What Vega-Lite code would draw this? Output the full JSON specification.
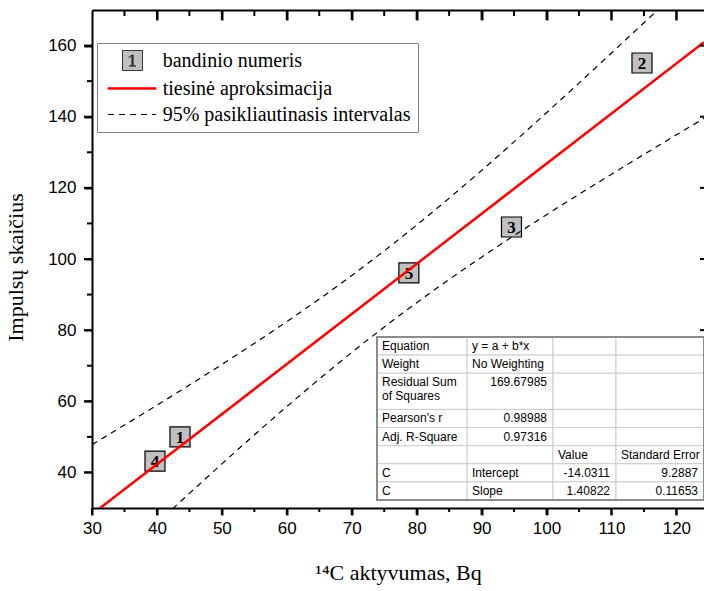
{
  "$schema": "https://vega.github.io/schema/vega-lite/v6.json",
  "width": 612,
  "height": 498,
  "autosize": {"type": "none"},
  "padding": {"left": 92, "top": 10, "right": 0, "bottom": 83},
  "background": "white",
  "config": {
    "view": {"stroke": null},
    "axis": {
      "grid": false,
      "ticks": true,
      "domainColor": "black",
      "tickColor": "black",
      "labelColor": "black",
      "titleColor": "black",
      "labelFont": "Liberation Sans",
      "labelFontSize": 17,
      "titleFont": "Liberation Serif",
      "titleFontSize": 22,
      "titleFontWeight": "normal",
      "domainWidth": 2,
      "tickWidth": 2,
      "labelOverlap": false,
      "labelFlush": false
    },
    "legend": {
      "orient": "none", "legendX": 5, "legendY": 33, "title": null, "direction": "vertical",
      "strokeColor": "#7f7f7f", "fillColor": "white", "padding": 7,
      "symbolSize": 400, "symbolStrokeWidth": 1, "symbolOpacity": 1,
      "labelFont": "Liberation Serif", "labelFontSize": 20, "labelColor": "black",
      "labelOffset": 37.7, "rowPadding": 5, "labelLimit": 400
    }
  },
  "datasets": {
    "points": [
      {"x": 43.55, "y": 50.0, "label": "1"},
      {"x": 114.7, "y": 155.1, "label": "2"},
      {"x": 94.6, "y": 109.0, "label": "3"},
      {"x": 39.7, "y": 43.2, "label": "4"},
      {"x": 78.8, "y": 96.1, "label": "5"}
    ],
    "ticks": [
      {"axis": "x", "v": 30, "kind": "major"}, {"axis": "x", "v": 35, "kind": "minor"},
      {"axis": "x", "v": 40, "kind": "major"}, {"axis": "x", "v": 45, "kind": "minor"},
      {"axis": "x", "v": 50, "kind": "major"}, {"axis": "x", "v": 55, "kind": "minor"},
      {"axis": "x", "v": 60, "kind": "major"}, {"axis": "x", "v": 65, "kind": "minor"},
      {"axis": "x", "v": 70, "kind": "major"}, {"axis": "x", "v": 75, "kind": "minor"},
      {"axis": "x", "v": 80, "kind": "major"}, {"axis": "x", "v": 85, "kind": "minor"},
      {"axis": "x", "v": 90, "kind": "major"}, {"axis": "x", "v": 95, "kind": "minor"},
      {"axis": "x", "v": 100, "kind": "major"}, {"axis": "x", "v": 105, "kind": "minor"},
      {"axis": "x", "v": 110, "kind": "major"}, {"axis": "x", "v": 115, "kind": "minor"},
      {"axis": "x", "v": 120, "kind": "major"},
      {"axis": "y", "v": 40, "kind": "major"}, {"axis": "y", "v": 50, "kind": "minor"},
      {"axis": "y", "v": 60, "kind": "major"}, {"axis": "y", "v": 70, "kind": "minor"},
      {"axis": "y", "v": 80, "kind": "major"}, {"axis": "y", "v": 90, "kind": "minor"},
      {"axis": "y", "v": 100, "kind": "major"}, {"axis": "y", "v": 110, "kind": "minor"},
      {"axis": "y", "v": 120, "kind": "major"}, {"axis": "y", "v": 130, "kind": "minor"},
      {"axis": "y", "v": 140, "kind": "major"}, {"axis": "y", "v": 150, "kind": "minor"},
      {"axis": "y", "v": 160, "kind": "major"}
    ],
    "lines": [
      {"x": 30, "y": 28.22, "series": "tiesinė aproksimacija", "band": "fit"},
      {"x": 124.25, "y": 160.94, "series": "tiesinė aproksimacija", "band": "fit"},
      {"x": 30, "y": 47.81, "series": "95% pasikliautinasis intervalas", "band": "upper"},
      {"x": 35, "y": 53.33, "series": "95% pasikliautinasis intervalas", "band": "upper"},
      {"x": 40, "y": 58.91, "series": "95% pasikliautinasis intervalas", "band": "upper"},
      {"x": 45, "y": 64.58, "series": "95% pasikliautinasis intervalas", "band": "upper"},
      {"x": 50, "y": 70.36, "series": "95% pasikliautinasis intervalas", "band": "upper"},
      {"x": 60, "y": 82.40, "series": "95% pasikliautinasis intervalas", "band": "upper"},
      {"x": 70, "y": 95.36, "series": "95% pasikliautinasis intervalas", "band": "upper"},
      {"x": 80, "y": 109.54, "series": "95% pasikliautinasis intervalas", "band": "upper"},
      {"x": 90, "y": 124.90, "series": "95% pasikliautinasis intervalas", "band": "upper"},
      {"x": 100, "y": 141.13, "series": "95% pasikliautinasis intervalas", "band": "upper"},
      {"x": 110, "y": 157.91, "series": "95% pasikliautinasis intervalas", "band": "upper"},
      {"x": 115, "y": 166.42, "series": "95% pasikliautinasis intervalas", "band": "upper"},
      {"x": 120, "y": 175.02, "series": "95% pasikliautinasis intervalas", "band": "upper"},
      {"x": 125, "y": 183.65, "series": "95% pasikliautinasis intervalas", "band": "upper"},
      {"x": 30, "y": 8.62, "series": "95% pasikliautinasis intervalas", "band": "lower"},
      {"x": 35, "y": 17.19, "series": "95% pasikliautinasis intervalas", "band": "lower"},
      {"x": 40, "y": 25.69, "series": "95% pasikliautinasis intervalas", "band": "lower"},
      {"x": 45, "y": 34.10, "series": "95% pasikliautinasis intervalas", "band": "lower"},
      {"x": 50, "y": 42.40, "series": "95% pasikliautinasis intervalas", "band": "lower"},
      {"x": 60, "y": 58.52, "series": "95% pasikliautinasis intervalas", "band": "lower"},
      {"x": 70, "y": 73.72, "series": "95% pasikliautinasis intervalas", "band": "lower"},
      {"x": 80, "y": 87.72, "series": "95% pasikliautinasis intervalas", "band": "lower"},
      {"x": 90, "y": 100.52, "series": "95% pasikliautinasis intervalas", "band": "lower"},
      {"x": 100, "y": 112.45, "series": "95% pasikliautinasis intervalas", "band": "lower"},
      {"x": 110, "y": 123.83, "series": "95% pasikliautinasis intervalas", "band": "lower"},
      {"x": 115, "y": 129.40, "series": "95% pasikliautinasis intervalas", "band": "lower"},
      {"x": 120, "y": 134.90, "series": "95% pasikliautinasis intervalas", "band": "lower"},
      {"x": 125, "y": 140.35, "series": "95% pasikliautinasis intervalas", "band": "lower"}
    ],
    "table": [
      {"r0": 0, "r1": 1, "c0": 0, "c1": 1, "text": "Equation", "kind": "label"},
      {"r0": 0, "r1": 1, "c0": 1, "c1": 2, "text": "y = a + b*x", "kind": "label"},
      {"r0": 0, "r1": 1, "c0": 2, "c1": 3, "text": "", "kind": "empty"},
      {"r0": 0, "r1": 1, "c0": 3, "c1": 4, "text": "", "kind": "empty"},
      {"r0": 1, "r1": 2, "c0": 0, "c1": 1, "text": "Weight", "kind": "label"},
      {"r0": 1, "r1": 2, "c0": 1, "c1": 2, "text": "No Weighting", "kind": "label"},
      {"r0": 1, "r1": 2, "c0": 2, "c1": 3, "text": "", "kind": "empty"},
      {"r0": 1, "r1": 2, "c0": 3, "c1": 4, "text": "", "kind": "empty"},
      {"r0": 2, "r1": 4, "c0": 0, "c1": 1, "text": "Residual Sum\nof Squares", "kind": "label"},
      {"r0": 2, "r1": 4, "c0": 1, "c1": 2, "text": "169.67985", "kind": "number"},
      {"r0": 2, "r1": 4, "c0": 2, "c1": 3, "text": "", "kind": "empty"},
      {"r0": 2, "r1": 4, "c0": 3, "c1": 4, "text": "", "kind": "empty"},
      {"r0": 4, "r1": 5, "c0": 0, "c1": 1, "text": "Pearson's r", "kind": "label"},
      {"r0": 4, "r1": 5, "c0": 1, "c1": 2, "text": "0.98988", "kind": "number"},
      {"r0": 4, "r1": 5, "c0": 2, "c1": 3, "text": "", "kind": "empty"},
      {"r0": 4, "r1": 5, "c0": 3, "c1": 4, "text": "", "kind": "empty"},
      {"r0": 5, "r1": 6, "c0": 0, "c1": 1, "text": "Adj. R-Square", "kind": "label"},
      {"r0": 5, "r1": 6, "c0": 1, "c1": 2, "text": "0.97316", "kind": "number"},
      {"r0": 5, "r1": 6, "c0": 2, "c1": 3, "text": "", "kind": "empty"},
      {"r0": 5, "r1": 6, "c0": 3, "c1": 4, "text": "", "kind": "empty"},
      {"r0": 6, "r1": 7, "c0": 0, "c1": 1, "text": "", "kind": "empty"},
      {"r0": 6, "r1": 7, "c0": 1, "c1": 2, "text": "", "kind": "empty"},
      {"r0": 6, "r1": 7, "c0": 2, "c1": 3, "text": "Value", "kind": "label"},
      {"r0": 6, "r1": 7, "c0": 3, "c1": 4, "text": "Standard Error", "kind": "label"},
      {"r0": 7, "r1": 8, "c0": 0, "c1": 1, "text": "C", "kind": "label"},
      {"r0": 7, "r1": 8, "c0": 1, "c1": 2, "text": "Intercept", "kind": "label"},
      {"r0": 7, "r1": 8, "c0": 2, "c1": 3, "text": "-14.0311", "kind": "number"},
      {"r0": 7, "r1": 8, "c0": 3, "c1": 4, "text": "9.2887", "kind": "number"},
      {"r0": 8, "r1": 9, "c0": 0, "c1": 1, "text": "C", "kind": "label"},
      {"r0": 8, "r1": 9, "c0": 1, "c1": 2, "text": "Slope", "kind": "label"},
      {"r0": 8, "r1": 9, "c0": 2, "c1": 3, "text": "1.40822", "kind": "number"},
      {"r0": 8, "r1": 9, "c0": 3, "c1": 4, "text": "0.11653", "kind": "number"}
    ]
  },
  "layer": [
    {
      "layer": [
        {
          "data": {"name": "points"},
          "mark": {"type": "square", "size": 400, "filled": true, "fill": "#c0c0c0", "stroke": "black", "strokeWidth": 1.2, "opacity": 1},
          "encoding": {
            "x": {
              "field": "x", "type": "quantitative",
              "scale": {"domain": [30, 124.25], "nice": false, "zero": false},
              "axis": {
                "orient": "bottom",
                "values": [30, 40, 50, 60, 70, 80, 90, 100, 110, 120],
                "tickSize": 7,
                "labelPadding": 5,
                "title": "¹⁴C aktyvumas, Bq",
                "titlePadding": 26
              }
            },
            "y": {
              "field": "y", "type": "quantitative",
              "scale": {"domain": [30, 170], "nice": false, "zero": false},
              "axis": {
                "orient": "left",
                "values": [40, 60, 80, 100, 120, 140, 160],
                "tickSize": 8,
                "labelPadding": 8,
                "title": "Impulsų skaičius",
                "titlePadding": 20,
                "titleY": 257
              }
            }
          }
        },
        {
          "data": {"name": "points"},
          "mark": {"type": "text", "font": "Liberation Serif", "fontWeight": "bold", "fontSize": 17, "align": "center", "baseline": "middle", "dy": 1, "color": "black"},
          "encoding": {
            "x": {"field": "x", "type": "quantitative", "scale": {"domain": [30, 124.25], "nice": false, "zero": false}, "axis": null},
            "y": {"field": "y", "type": "quantitative", "scale": {"domain": [30, 170], "nice": false, "zero": false}, "axis": null},
            "text": {"field": "label"}
          }
        },
        {
          "data": {"name": "lines"},
          "transform": [{"filter": "datum.series === '95% pasikliautinasis intervalas'"}],
          "mark": {"type": "line", "clip": true, "strokeWidth": 1.2, "strokeDash": [6, 5], "color": "black", "interpolate": "monotone"},
          "encoding": {
            "x": {
              "field": "x", "type": "quantitative",
              "scale": {"domain": [30, 124.25], "nice": false, "zero": false},
              "axis": {"orient": "top", "values": [40, 50, 60, 70, 80, 90, 100, 110, 120], "tickSize": -10, "labels": false, "title": null}
            },
            "y": {"field": "y", "type": "quantitative", "scale": {"domain": [30, 170], "nice": false, "zero": false}, "axis": null},
            "detail": {"field": "band"}
          }
        },
        {
          "data": {"name": "lines"},
          "transform": [{"filter": "datum.series === 'tiesinė aproksimacija'"}],
          "mark": {"type": "line", "clip": true, "strokeWidth": 2.5, "color": "#ff0000"},
          "encoding": {
            "x": {"field": "x", "type": "quantitative", "scale": {"domain": [30, 124.25], "nice": false, "zero": false}, "axis": null},
            "y": {"field": "y", "type": "quantitative", "scale": {"domain": [30, 170], "nice": false, "zero": false}, "axis": null}
          }
        },
        {
          "data": {"name": "ticks"},
          "transform": [{"filter": "datum.axis === 'x' && datum.kind === 'major'"}],
          "mark": {"type": "rule", "color": "black", "strokeWidth": 2, "y2Offset": 7},
          "encoding": {
            "x": {"field": "v", "type": "quantitative", "scale": {"domain": [30, 124.25], "nice": false, "zero": false}, "axis": null},
            "y": {"datum": 30, "type": "quantitative", "scale": {"domain": [30, 170], "nice": false, "zero": false}, "axis": null},
            "y2": {"datum": 30}
          }
        },
        {
          "data": {"name": "ticks"},
          "transform": [{"filter": "datum.axis === 'x' && datum.kind === 'minor'"}],
          "mark": {"type": "rule", "color": "black", "strokeWidth": 2, "y2Offset": 4},
          "encoding": {
            "x": {"field": "v", "type": "quantitative", "scale": {"domain": [30, 124.25], "nice": false, "zero": false}, "axis": null},
            "y": {"datum": 30, "type": "quantitative", "scale": {"domain": [30, 170], "nice": false, "zero": false}, "axis": null},
            "y2": {"datum": 30}
          }
        },
        {
          "data": {"name": "ticks"},
          "transform": [{"filter": "datum.axis === 'x' && datum.kind === 'major' && datum.v > 30"}],
          "mark": {"type": "rule", "color": "black", "strokeWidth": 2, "y2Offset": 10},
          "encoding": {
            "x": {"field": "v", "type": "quantitative", "scale": {"domain": [30, 124.25], "nice": false, "zero": false}, "axis": null},
            "y": {"datum": 170, "type": "quantitative", "scale": {"domain": [30, 170], "nice": false, "zero": false}, "axis": null},
            "y2": {"datum": 170}
          }
        },
        {
          "data": {"name": "ticks"},
          "transform": [{"filter": "datum.axis === 'x' && datum.kind === 'minor'"}],
          "mark": {"type": "rule", "color": "black", "strokeWidth": 2, "y2Offset": 6},
          "encoding": {
            "x": {"field": "v", "type": "quantitative", "scale": {"domain": [30, 124.25], "nice": false, "zero": false}, "axis": null},
            "y": {"datum": 170, "type": "quantitative", "scale": {"domain": [30, 170], "nice": false, "zero": false}, "axis": null},
            "y2": {"datum": 170}
          }
        },
        {
          "data": {"name": "ticks"},
          "transform": [{"filter": "datum.axis === 'y' && datum.kind === 'major'"}],
          "mark": {"type": "rule", "color": "black", "strokeWidth": 2, "x2Offset": -8},
          "encoding": {
            "y": {"field": "v", "type": "quantitative", "scale": {"domain": [30, 170], "nice": false, "zero": false}, "axis": null},
            "x": {"datum": 30, "type": "quantitative", "scale": {"domain": [30, 124.25], "nice": false, "zero": false}, "axis": null},
            "x2": {"datum": 30}
          }
        },
        {
          "data": {"name": "ticks"},
          "transform": [{"filter": "datum.axis === 'y' && datum.kind === 'minor'"}],
          "mark": {"type": "rule", "color": "black", "strokeWidth": 2, "x2Offset": -5},
          "encoding": {
            "y": {"field": "v", "type": "quantitative", "scale": {"domain": [30, 170], "nice": false, "zero": false}, "axis": null},
            "x": {"datum": 30, "type": "quantitative", "scale": {"domain": [30, 124.25], "nice": false, "zero": false}, "axis": null},
            "x2": {"datum": 30}
          }
        },
        {
          "data": {"name": "ticks"},
          "transform": [{"filter": "datum.axis === 'y' && datum.kind === 'major'"}],
          "mark": {"type": "rule", "color": "black", "strokeWidth": 2, "x2Offset": -4},
          "encoding": {
            "y": {"field": "v", "type": "quantitative", "scale": {"domain": [30, 170], "nice": false, "zero": false}, "axis": null},
            "x": {"datum": 124.25, "type": "quantitative", "scale": {"domain": [30, 124.25], "nice": false, "zero": false}, "axis": null},
            "x2": {"datum": 124.25}
          }
        },
        {
          "data": {"name": "lines"},
          "transform": [{"filter": "false"}],
          "mark": {"type": "point", "filled": true, "strokeWidth": 1},
          "encoding": {
            "shape": {
              "field": "series", "type": "nominal",
              "scale": {
                "domain": ["bandinio numeris", "tiesinė aproksimacija", "95% pasikliautinasis intervalas"],
                "range": [
                  "M0.8,-1H2.8V1H0.8Z M1.75,-0.55V0.55 M1.85,-0.55V0.55 M1.45,0.55H2.15 M1.8,-0.55L1.4,-0.3",
                  "M-0.65,-0.075H4.15V0.075H-0.65Z",
                  "M-0.65,0H4.15"
                ]
              }
            },
            "fill": {
              "field": "series", "type": "nominal",
              "scale": {"domain": ["bandinio numeris", "tiesinė aproksimacija", "95% pasikliautinasis intervalas"], "range": ["#c0c0c0", "#ff0000", "transparent"]}
            },
            "stroke": {
              "field": "series", "type": "nominal",
              "scale": {"domain": ["bandinio numeris", "tiesinė aproksimacija", "95% pasikliautinasis intervalas"], "range": ["black", "#ff0000", "black"]}
            },
            "strokeDash": {
              "field": "series", "type": "nominal",
              "scale": {"domain": ["bandinio numeris", "tiesinė aproksimacija", "95% pasikliautinasis intervalas"], "range": [[1, 0], [1, 0], [6, 5]]}
            }
          }
        }
      ],
      "resolve": {"axis": {"x": "independent", "y": "independent"}}
    },
    {
      "data": {"name": "table"},
      "layer": [
        {
          "mark": {"type": "rect", "fill": "white", "stroke": "#cccccc", "strokeWidth": 1},
          "encoding": {
            "x": {"field": "c0", "type": "quantitative", "scale": {"domain": [0, 1, 2, 3, 4], "range": [285, 375, 461, 524, 612], "nice": false, "zero": false}, "axis": null},
            "x2": {"field": "c1"},
            "y": {"field": "r0", "type": "quantitative", "scale": {"domain": [0, 9], "range": [327, 490], "nice": false, "zero": false}, "axis": null},
            "y2": {"field": "r1"}
          }
        },
        {
          "mark": {"type": "rect", "fill": null, "fillOpacity": 0, "stroke": "#8c8c8c", "strokeWidth": 1.3},
          "encoding": {
            "x": {"datum": 0, "type": "quantitative", "scale": {"domain": [0, 1, 2, 3, 4], "range": [285, 375, 461, 524, 612], "nice": false, "zero": false}, "axis": null},
            "x2": {"datum": 4},
            "y": {"datum": 0, "type": "quantitative", "scale": {"domain": [0, 9], "range": [327, 490], "nice": false, "zero": false}, "axis": null},
            "y2": {"datum": 9}
          }
        },
        {
          "transform": [{"filter": "datum.kind === 'label'"}],
          "mark": {"type": "text", "font": "Liberation Sans", "fontSize": 12, "align": "left", "baseline": "top", "dx": 5, "dy": 4, "lineBreak": "\n", "lineHeight": 14, "color": "black"},
          "encoding": {
            "x": {"field": "c0", "type": "quantitative", "scale": {"domain": [0, 1, 2, 3, 4], "range": [285, 375, 461, 524, 612], "nice": false, "zero": false}, "axis": null},
            "y": {"field": "r0", "type": "quantitative", "scale": {"domain": [0, 9], "range": [327, 490], "nice": false, "zero": false}, "axis": null},
            "text": {"field": "text"}
          }
        },
        {
          "transform": [{"filter": "datum.kind === 'number'"}],
          "mark": {"type": "text", "font": "Liberation Sans", "fontSize": 12, "align": "right", "baseline": "top", "dx": -6, "dy": 4, "color": "black"},
          "encoding": {
            "x": {"field": "c1", "type": "quantitative", "scale": {"domain": [0, 1, 2, 3, 4], "range": [285, 375, 461, 524, 612], "nice": false, "zero": false}, "axis": null},
            "y": {"field": "r0", "type": "quantitative", "scale": {"domain": [0, 9], "range": [327, 490], "nice": false, "zero": false}, "axis": null},
            "text": {"field": "text"}
          }
        }
      ]
    }
  ],
  "resolve": {"scale": {"x": "independent", "y": "independent"}, "axis": {"x": "independent", "y": "independent"}}
}
